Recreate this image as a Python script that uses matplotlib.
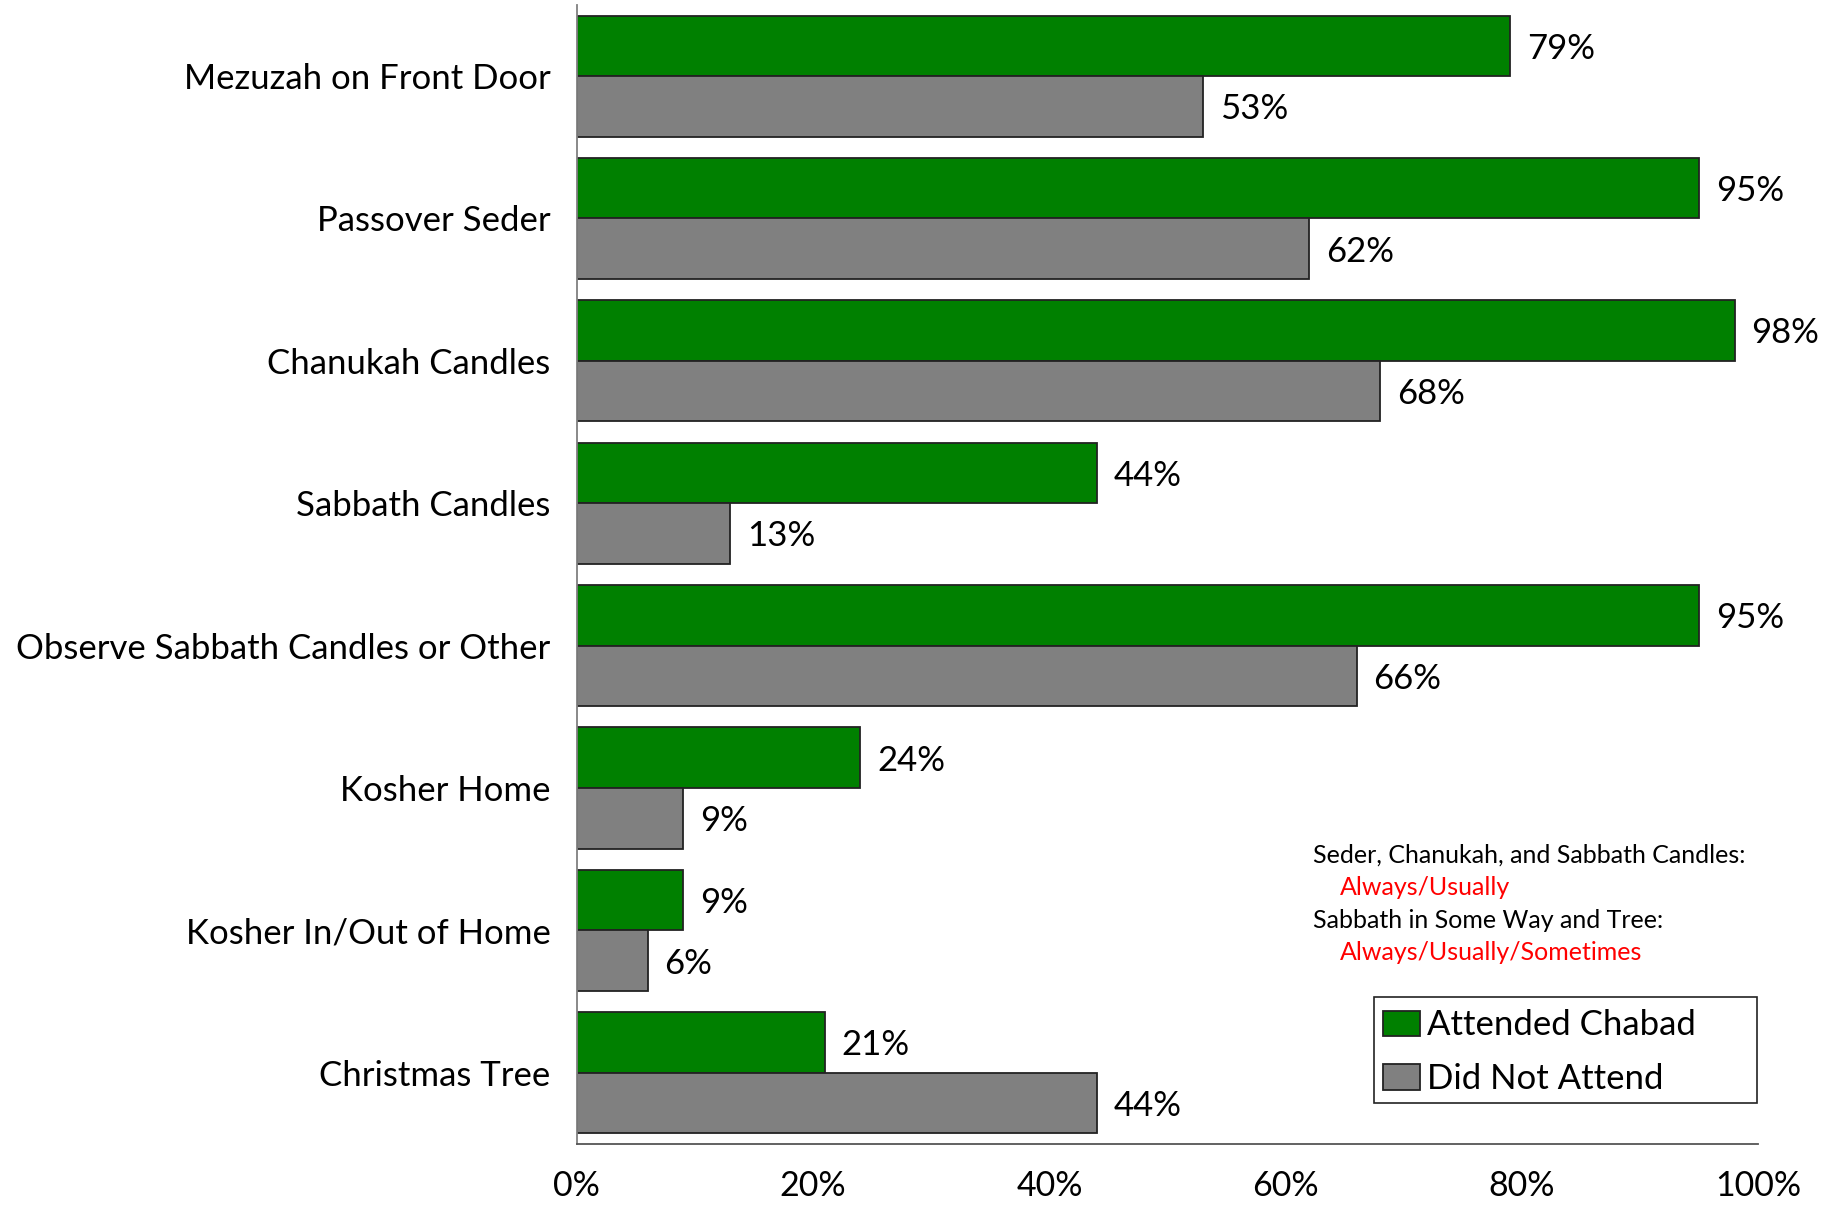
import numpy as np
from matplotlib import pyplot as plt
from matplotlib.patches import Rectangle

plt.rcParams['font.family'] = ['Lato', 'DejaVu Sans']

categories = ["Mezuzah on Front Door", "Passover Seder", "Chanukah Candles",
              "Sabbath Candles", "Observe Sabbath Candles or Other",
              "Kosher Home", "Kosher In/Out of Home", "Christmas Tree"]
attended = [79, 95, 98, 44, 95, 24, 9, 21]
not_attended = [53, 62, 68, 13, 66, 9, 6, 44]
xticks = [0, 20, 40, 60, 80, 100]

W, H = 1843, 1206
fig = plt.figure(figsize=(W / 100, H / 100), dpi=100)
ax = fig.add_axes([0.313, 0.0514, 0.641, 0.9446])

y = np.arange(len(categories))
h = 0.425
b1 = ax.barh(y - h / 2, attended, height=h, color="#008000",
             edgecolor="#222222", linewidth=1.3, label="Attended Chabad")
b2 = ax.barh(y + h / 2, not_attended, height=h, color="#808080",
             edgecolor="#222222", linewidth=1.3, label="Did Not Attend")

for bars, vals in ((b1, attended), (b2, not_attended)):
    for bar, v in zip(bars, vals):
        ax.text(v + 1.4, bar.get_y() + bar.get_height() / 2 + 0.02, "%d%%" % v,
                va="center", ha="left", fontsize=25)

ax.set_ylim(len(categories) - 0.5, -0.5)
ax.set_xlim(0, 100)
ax.set_yticks(y)
ax.set_yticklabels(categories, fontsize=25)
ax.set_xticks(xticks)
ax.set_xticklabels(["%d%%" % t for t in xticks], fontsize=24.5)
ax.tick_params(length=0)
ax.tick_params(axis="y", pad=19)
ax.tick_params(axis="x", pad=19)
for s in ("top", "right"):
    ax.spines[s].set_visible(False)
ax.spines["left"].set_color("#808080")
ax.spines["bottom"].set_color("#555555")
ax.spines["left"].set_linewidth(1.3)
ax.spines["bottom"].set_linewidth(1.3)

fx = 1313 / W
notes = [("Seder, Chanukah, and Sabbath Candles:", "black", 0),
         ("Always/Usually", "red", 1),
         ("Sabbath in Some Way and Tree:", "black", 0),
         ("Always/Usually/Sometimes", "red", 1)]
for i, (txt, col, ind) in enumerate(notes):
    fig.text(fx + ind * 0.0145, 1 - (855 + 32.5 * i) / H, txt, color=col,
             fontsize=18, va="center", ha="left")

# legend frame drawn separately so it can be wider than its entries
ax.add_patch(Rectangle((1374 / W, 1 - 1103 / H), 383 / W, 106 / H,
                       transform=fig.transFigure, facecolor="white",
                       edgecolor="#222222", linewidth=1.2, zorder=4,
                       clip_on=False))
leg = ax.legend(loc="upper left", bbox_to_anchor=(1380 / W, 1 - 1006 / H),
                bbox_transform=fig.transFigure, fontsize=25, frameon=False,
                handlelength=1.05, handleheight=0.75, handletextpad=0.2,
                borderpad=0.1, labelspacing=0.62, borderaxespad=0.0)
leg.set_zorder(6)

fig.savefig("out.png", dpi=100)
